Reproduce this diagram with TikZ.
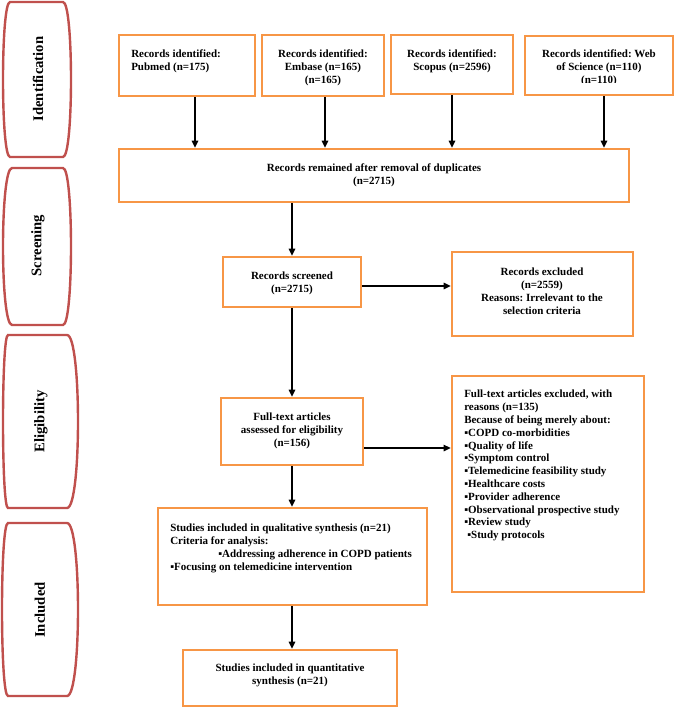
\documentclass[tikz,border=0pt]{standalone}
\usepackage{fontspec}
\setmainfont{Liberation Serif}
\usetikzlibrary{arrows.meta}
\frenchspacing
\definecolor{boxorange}{RGB}{247,150,70}
\definecolor{phasered}{RGB}{192,80,77}
% phase shape: top, bottom, corner-left, corner-right, extreme-left, extreme-right
\newcommand\phaseshape[6]{%
  \draw[phase] (#3,#1) -- (#4,#1)
    .. controls ({#4+(#6-#4)/0.75},#1) and ({#4+(#6-#4)/0.75},#2) .. (#4,#2)
    -- (#3,#2)
    .. controls ({#3-(#3-#5)/0.75},#2) and ({#3-(#3-#5)/0.75},#1) .. (#3,#1) -- cycle;}
% box: name, x1, y1, x2, y2 (pixels)
\newcommand\mkbox[5]{%
  \node[obox, minimum width={(#4-#2)*0.75pt}, minimum height={(#5-#3)*0.75pt}]
    (#1) at ({(#2+#4)/2},{(#3+#5)/2}) {};}
\tikzset{
  phase/.style={draw=phasered, line width=1.8pt},
  obox/.style={draw=boxorange, line width=1.9pt, inner sep=0pt, fill=white},
  txt/.style={inner sep=0pt, font=\bfseries\fontsize{8.25pt}{9.75pt}\selectfont},
  lbl/.style={inner sep=0pt, rotate=90, font=\bfseries\fontsize{11pt}{13pt}\selectfont},
  arr/.style={line width=1pt, -{Triangle[length=5.25pt,width=4.8pt]}},
}
\begin{document}
\begin{tikzpicture}[x=0.75pt, y=-0.75pt]
\fill[white] (0,0) rectangle (676,708);
\useasboundingbox (0,0) rectangle (676,708);

% phase shapes
\phaseshape{2}{157}{10}{63}{3}{71}
\phaseshape{168}{325}{12}{63}{3}{71}
\phaseshape{335}{508}{8}{67}{3}{78}
\phaseshape{523}{696}{8}{67}{2}{78}
\node[lbl] (lid) at (38,79) {Identification};
\node[lbl] (lsc) at (38,245.5) {Screening};
\node[lbl] (lel) at (41,421.5) {Eligibility};
\node[lbl] (lin) at (40,610) {Included};

% boxes
\mkbox{pub}{119}{35}{255}{96}
\mkbox{emb}{262}{35}{384}{96}
\mkbox{sco}{391}{35}{513}{94}
\mkbox{wos}{525}{36}{673}{95}
\mkbox{dup}{119}{149}{629}{202}
\mkbox{scr}{223}{257}{361}{307}
\mkbox{exc}{452}{252}{633}{336}
\mkbox{ft}{221}{398}{363}{465}
\mkbox{fte}{452}{376}{644}{592}
\mkbox{qual}{158}{508}{427}{605}
\mkbox{quant}{183}{650}{397}{706}

% texts
\node[txt, align=left, anchor=west] (tpub) at (131,61.5) {Records identified:\\Pubmed (n=175)};
\node[txt, align=center] (temb) at (323,68) {Records identified:\\Embase (n=165)\\(n=165)};
\node[txt, align=center] (tsco) at (452,61) {Records identified:\\Scopus (n=2596)};
\begin{scope}
  \clip (526,37) rectangle (672,82);
  \node[txt, align=center] (twos) at (599,68) {Records identified: Web\\of Science (n=110)\\(n=110)};
\end{scope}
\node[txt, align=center] (tdup) at (374,175) {Records remained after removal of duplicates\\(n=2715)};
\node[txt, align=center] (tscr) at (292,283) {Records screened\\(n=2715)};
\node[txt, align=center] (texc) at (542,291.5) {Records excluded\\(n=2559)\\Reasons: Irrelevant to the\\selection criteria};
\node[txt, align=center] (tft) at (292,431) {Full-text articles\\assessed for eligibility\\(n=156)};
\node[txt, align=left, anchor=north west, font=\bfseries\fontsize{8.25pt}{9.6pt}\selectfont] (tfte) at (464,390) {Full-text articles excluded, with\\reasons (n=135)\\Because of being merely about:\\▪COPD co-morbidities\\▪Quality of life\\▪Symptom control\\▪Telemedicine feasibility study\\▪Healthcare costs\\▪Provider adherence\\▪Observational prospective study\\▪Review study\\\hspace{2.25pt}▪Study protocols};
\node[txt, align=left, anchor=north west] (tqual) at (170,523.5) {Studies included in qualitative synthesis (n=21)\\Criteria for analysis:\\\hspace{36pt}▪Addressing adherence in COPD patients\\▪Focusing on telemedicine intervention};
\node[txt, align=center] (tquant) at (290,675.5) {Studies included in quantitative\\synthesis (n=21)};

% connectors
\draw[arr] ([xshift=6pt]pub.south) -- ([xshift=6pt]pub.south |- dup.north);
\draw[arr] ([xshift=1.5pt]emb.south) -- ([xshift=1.5pt]emb.south |- dup.north);
\draw[arr] (sco.south) -- (sco.south |- dup.north);
\draw[arr] ([xshift=3.75pt]wos.south) -- ([xshift=3.75pt]wos.south |- dup.north);
\draw[arr] (scr.north |- dup.south) -- (scr.north);
\draw[arr] ([yshift=-3pt]scr.east) -- ([yshift=-3pt]scr.east -| exc.west);
\draw[arr] (scr.south) -- (ft.north);
\draw[arr] ([yshift=-12.4pt]ft.east) -- ([yshift=-12.4pt]ft.east -| fte.west);
\draw[arr] (ft.south) -- (ft.south |- qual.north);
\draw[arr] (ft.south |- qual.south) -- (ft.south |- quant.north);
\end{tikzpicture}
\end{document}
